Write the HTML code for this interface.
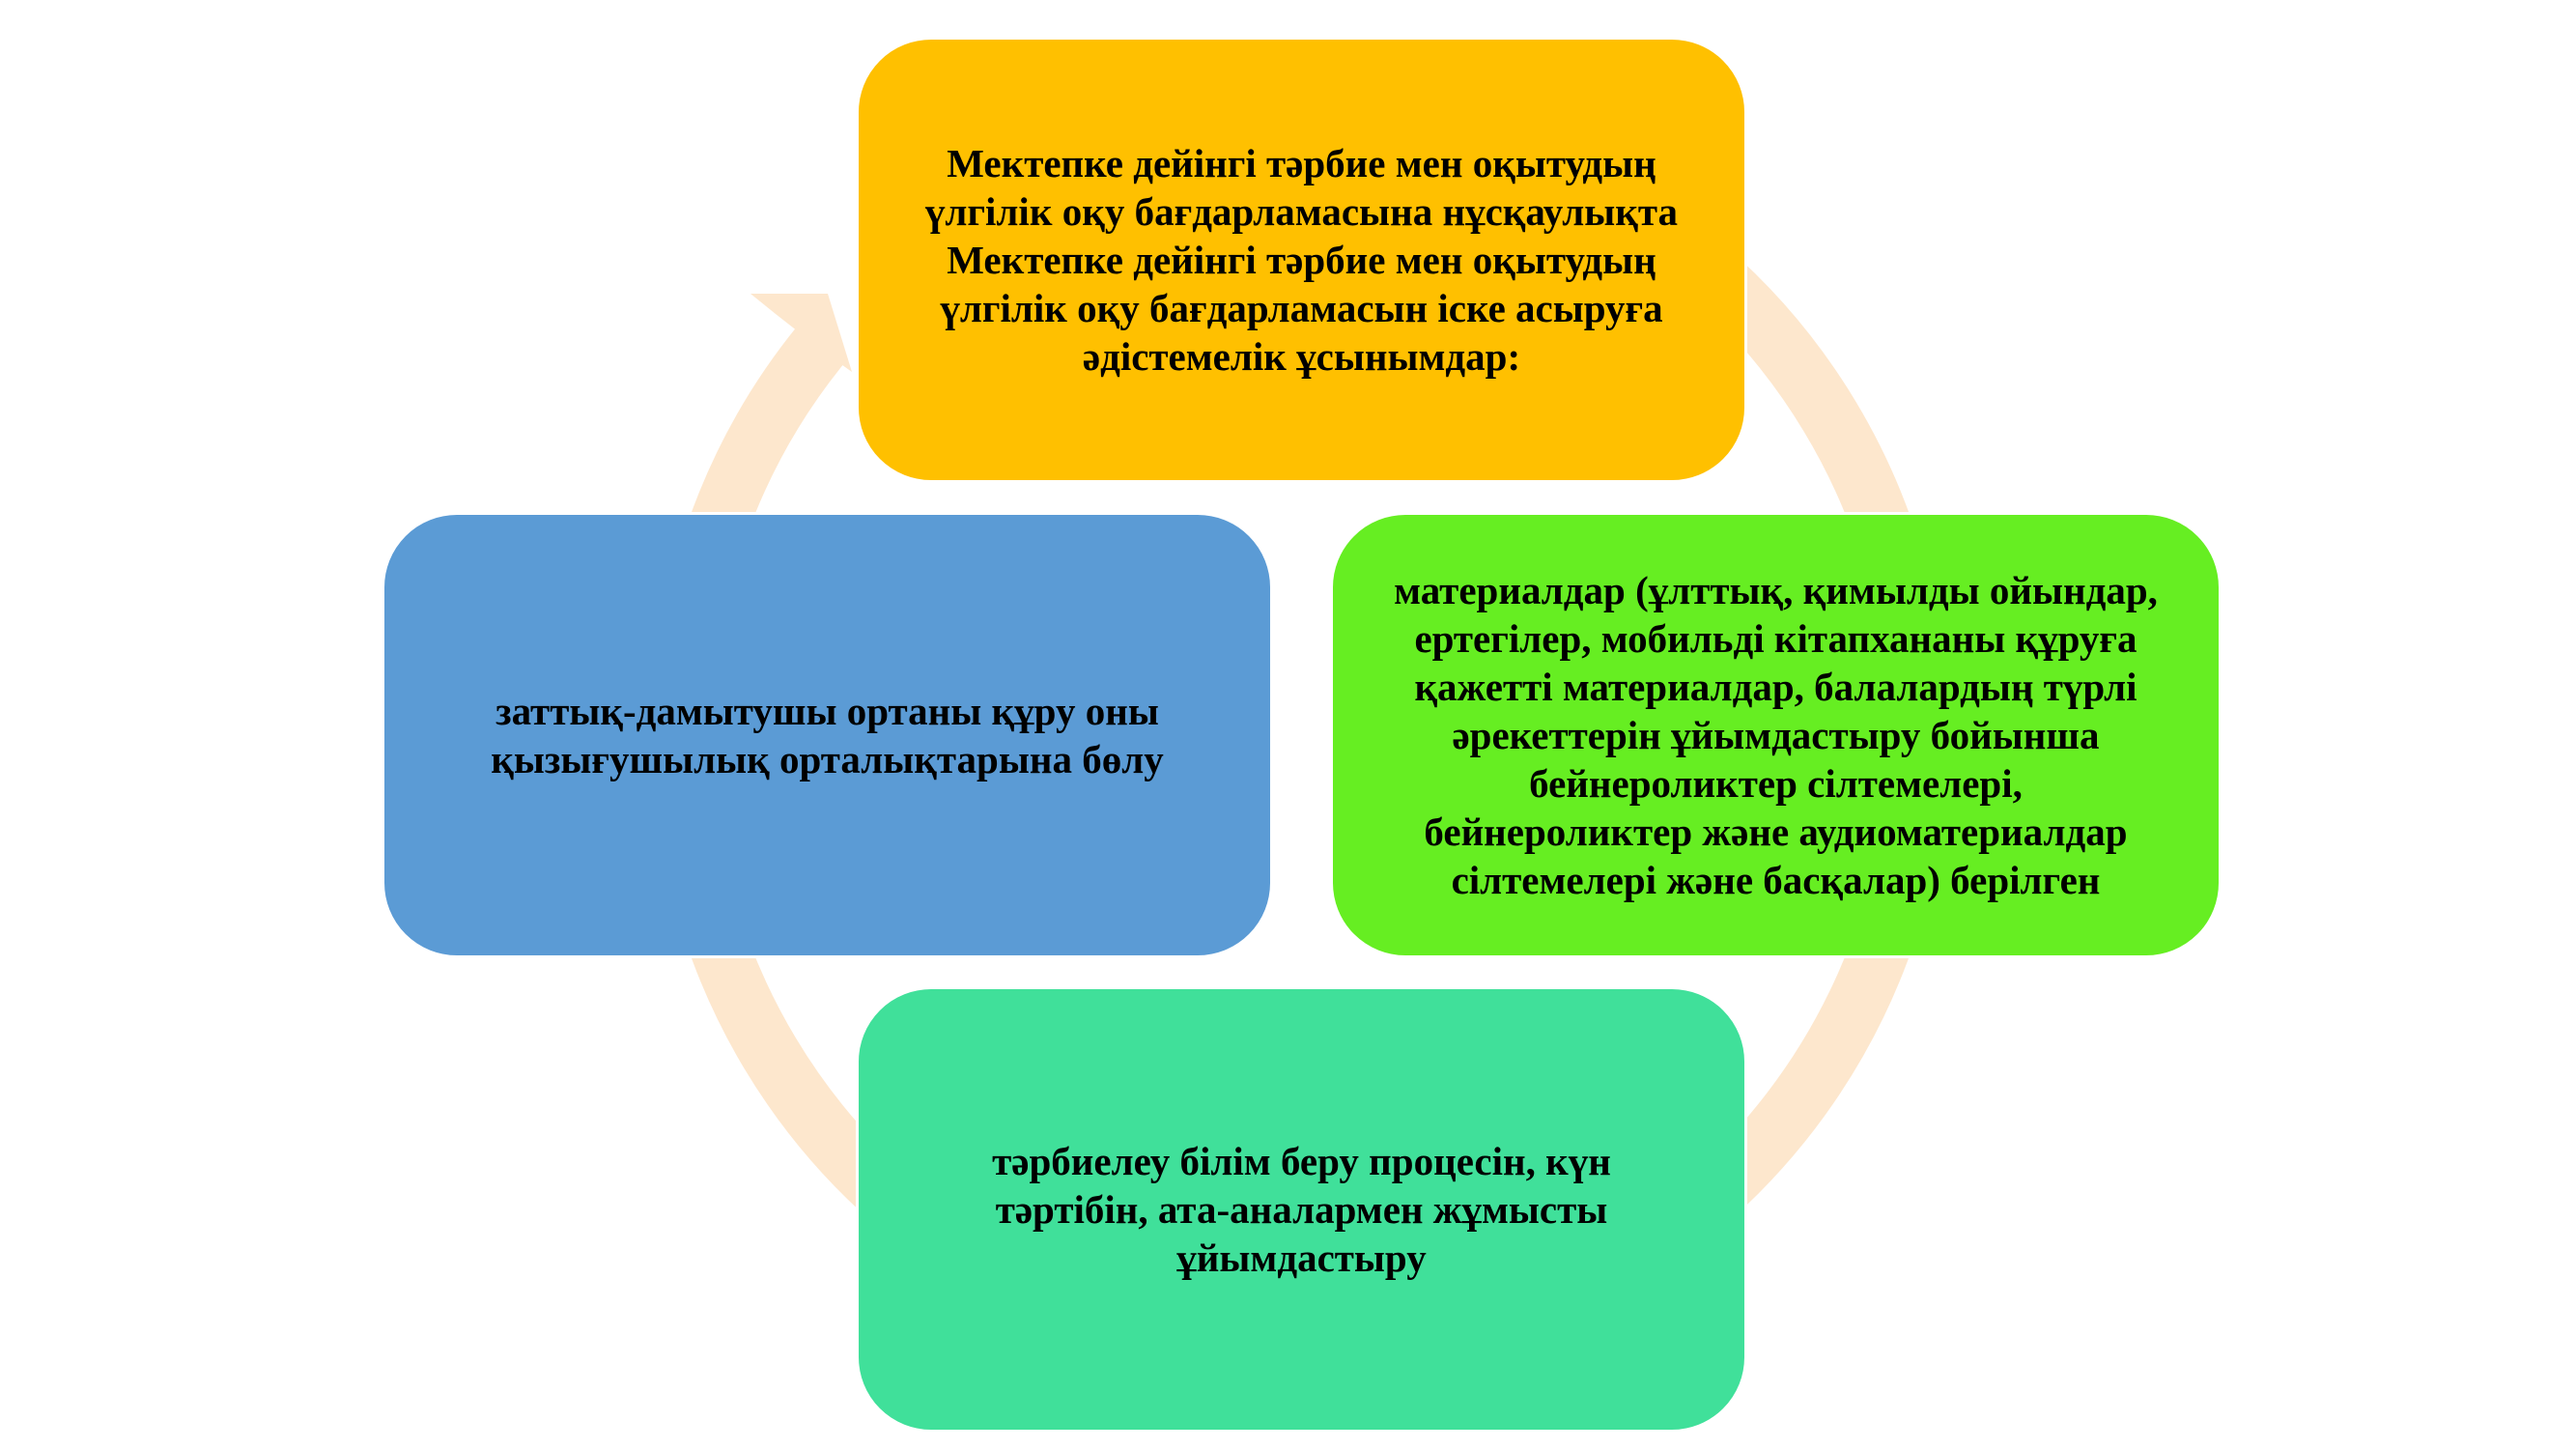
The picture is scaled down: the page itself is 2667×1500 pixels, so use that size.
<!DOCTYPE html>
<html><head><meta charset="utf-8"><style>
html,body{margin:0;width:2667px;height:1500px;overflow:hidden;}
body{background:#fff;position:relative;font-family:"Liberation Serif","DejaVu Serif",serif;}
.b{position:absolute;border-radius:78px;display:flex;align-items:center;justify-content:center;text-align:center;font-weight:bold;font-size:41px;line-height:50px;color:#000;box-sizing:border-box;padding:0 40px;border:3px solid #fff;overflow:hidden;}
</style></head><body>
<svg width="2667" height="1500" style="position:absolute;left:0;top:0;display:block">
<circle cx="1346" cy="761" r="640" fill="none" stroke="#FDE7CD" stroke-width="62" stroke-dasharray="3798 223" transform="rotate(-121 1346 761)"/>
<polygon points="803,325 777,304 857,304 882,385 854,365" fill="#FDE7CD"/>
</svg>
<div class="b" style="left:886px;top:38px;width:923px;height:462px;background:#FFC000">Мектепке дейінгі тәрбие мен оқытудың үлгілік оқу бағдарламасына нұсқаулықта Мектепке дейінгі тәрбие мен оқытудың үлгілік оқу бағдарламасын іске асыруға әдістемелік ұсынымдар:</div>
<div class="b" style="left:395px;top:530px;width:923px;height:462px;background:#5B9BD5;padding:0 80px">заттық-дамытушы ортаны құру оны қызығушылық орталықтарына бөлу</div>
<div class="b" style="left:1377px;top:530px;width:923px;height:462px;background:#66EE22;padding:0 62px">материалдар (ұлттық, қимылды ойындар, ертегілер, мобильді кітапхананы құруға қажетті материалдар, балалардың түрлі әрекеттерін ұйымдастыру бойынша бейнероликтер сілтемелері, бейнероликтер және аудиоматериалдар сілтемелері және басқалар) берілген</div>
<div class="b" style="left:886px;top:1021px;width:923px;height:462px;background:#40E09A;padding:0 90px">тәрбиелеу білім беру процесін, күн тәртібін, ата-аналармен жұмысты ұйымдастыру</div>
</body></html>
